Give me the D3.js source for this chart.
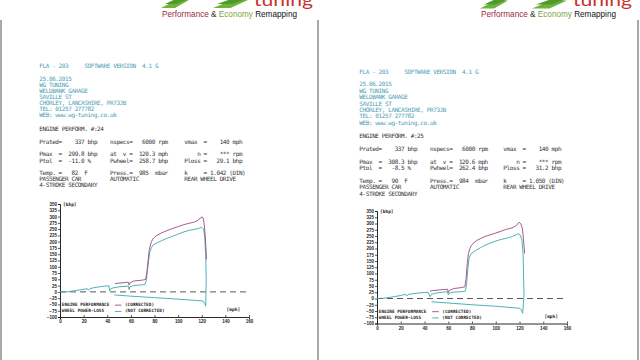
<!DOCTYPE html>
<html><head><meta charset="utf-8">
<script src="https://cdn.jsdelivr.net/npm/d3@7"></script>
<style>body{margin:0;background:#fff}svg{display:block}text{white-space:pre}</style>
</head><body><svg id="c" width="640" height="360"></svg>
<script>
// ---------- data ----------
const yTicks = d3.range(-100, 351, 25);
const xTicks = d3.range(0, 161, 20);
const legendLabels = ["ENGINE PERFORMANCE", "WHEEL POWER-LOSS"];
const seriesLabels = ["(CORRECTED)", "(NOT CORRECTED)"];
const tagline = ["Performance ", "& ", "Economy ", "Remapping"];

// left sheet (#24)
const leftHeader = ["FLA - 203     SOFTWARE VERSION  4.1 G"];
const leftAddress = ["25.06.2015","WG TUNING","WELDBANK GARAGE","SAVILLE ST","CHORLEY, LANCASHIRE, PR73JB","TEL: 01257 277782","WEB: www.wg-tuning.co.uk"];
const leftTitle = "ENGINE PERFORM. #:24";
const leftRows = [
  ["Prated=    337 bhp", "nspecs=   6000 rpm", "vmax  =    140 mph"],
  ["Pmax  =  299.8 bhp", "at  v =  120.3 mph", "    n =    *** rpm"],
  ["Ptol  =  -11.0 %",   "Pwheel=  258.7 bhp", "Ploss =   29.1 bhp"],
  ["Temp. =   82  F",    "Press.=  985  mbar", "k     = 1.042 (DIN)"],
  ["PASSENGER CAR",      "AUTOMATIC",          "REAR WHEEL DRIVE"],
  ["4-STROKE SECONDARY", "", ""]
];
const leftUpperMph = [0,5,9,13,17,21,23,24,25,28,32,36,40,41.5,42,43,45,50,55,58,58.5,59.2,62,66,70,72,73,74,75,76,77.5,79,82,86,90,95,100,105,110,114,118,120,121.5,122.5,123.3,123.8,123.3];
const leftUpperBhp = [0,0,2,5,8,11,13,6,12,16,19,22,24,24,4,12,16,20,22,23,9,20,25,27,28,30,45,85,125,158,177,187,195,204,212,221,230,239,246,249,254,257,250,220,150,50,-57];
const leftLossMph = [123.3,122.5,121,115,100,80,60,46];
const leftLossBhp = [-57,-46,-36,-34,-29,-23,-17,-12];
const leftCorrMph = [46.5,50,55,58,58.5,59.2,62,66,70,72.5,73.5,74.5,75.5,77,78.5,80,82,86,90,95,100,105,110,113,116,118.5,120.3,121.5,122.5,123.5,124];
const leftCorrBhp = [33,35,37,39,27,35,43,45,47,50,75,122,165,195,210,218,225,235,243,252,260,268,274,277,283,292,299,290,250,180,130];

// right sheet (#25)
const rightHeader = ["FLA - 203     SOFTWARE VERSION  4.1 G"];
const rightAddress = ["25.06.2015","WG TUNING","WELDBANK GARAGE","SAVILLE ST","CHORLEY, LANCASHIRE, PR73JB","TEL: 01257 277782","WEB: www.wg-tuning.co.uk"];
const rightTitle = "ENGINE PERFORM. #:25";
const rightRows = [
  ["Prated=    337 bhp", "nspecs=   6000 rpm", "vmax  =    140 mph"],
  ["Pmax  =  308.3 bhp", "at  v =  120.6 mph", "    n =    *** rpm"],
  ["Ptol  =   -8.5 %",   "Pwheel=  262.4 bhp", "Ploss =   31.2 bhp"],
  ["Temp. =   90  F",    "Press.=  984  mbar", "k     = 1.050 (DIN)"],
  ["PASSENGER CAR",      "AUTOMATIC",          "REAR WHEEL DRIVE"],
  ["4-STROKE SECONDARY", "", ""]
];
const rightUpperMph = [0,5,10,15,20,24,25,26,30,35,40,43,44,44.6,46,50,55,59.5,60,61,65,70,73,74.5,75.5,76.5,77.5,78.5,80,83,87,91,95,100,105,110,114,117.6,119,120.5,122,123,123.8,122.7];
const rightUpperBhp = [0,1,4,8,12,17,10,16,19,22,24,25,15,7,17,22,25,27,14,22,26,27,28,30,60,120,160,174,182,192,203,213,221,230,237,242,248,256,259,255,235,180,14,-59];
const rightLossMph = [122.7,121.5,120.4,110,100,80,60,46];
const rightLossBhp = [-59,-45,-39,-35,-31,-25,-18,-13];
const rightCorrMph = [44.6,48,52,56,59.5,60,61,65,70,74,75,76,77,78.3,79.5,81,84,88,92,95,100,105,109,112,115,117.5,119.6,121,122.4,123.5,124.3];
const rightCorrBhp = [30,32,34,36,37,24,33,40,43,47,80,140,180,201,212,221,232,242,250,254,262,270,277,280,285,293,305,300,281,230,180];

// ---------- drawing ----------
const MAG = "#a1467f", TEAL = "#3ba8ad", HEAD = "#4a9db3", INK = "#333";
const svg = d3.select("#c");
svg.append("rect").attr("width",640).attr("height",360).attr("fill","#fff");

function logo(ox, oy){
  const g = svg.append("g").attr("transform",`translate(${ox},${oy})`);
  const sw = [[0,28],[52,35]];
  sw.forEach(([x0,w])=>{
    g.append("path").attr("d",`M${x0},8 L${x0+w*0.55},0 L${x0+w},0 L${x0+w*0.5},8 Z`).attr("fill","#6fb33a");
    g.append("path").attr("d",`M${x0+4},4 L${x0+w*0.6},-2 L${x0+w+2},-2 L${x0+w*0.55},4 Z`).attr("fill","#4f9a2c");
  });
  g.append("text").attr("x",93).attr("y",5.5).attr("font-family","Lato, 'Open Sans', sans-serif")
    .attr("font-size",17).attr("fill","#c8322e").attr("textLength",59).attr("lengthAdjust","spacingAndGlyphs").text("tuning");
  const t = g.append("text").attr("x",1).attr("y",16.5).attr("font-family","'Liberation Sans', Arial, sans-serif")
    .attr("font-size",8.3).attr("textLength",135).attr("lengthAdjust","spacingAndGlyphs");
  const cols = ["#9a2a3c","#333","#7ba63a","#111"];
  tagline.forEach((s,i)=>t.append("tspan").attr("fill",cols[i]).text(s));
}

function sheet(cfg){
  const mono = "'DejaVu Sans Mono', 'Liberation Mono', monospace";
  const fs = 6, ls = -0.4;
  const tx = (x,y,s,col)=>svg.append("text").attr("x",x).attr("y",y).attr("font-family",mono)
      .attr("font-size",fs).attr("letter-spacing",ls).attr("fill",col).text(s);
  tx(cfg.tx, cfg.hy, cfg.header[0], HEAD);
  cfg.address.forEach((s,i)=>tx(cfg.tx, cfg.ay + i*cfg.lh, s, HEAD));
  tx(cfg.tx, cfg.ty, cfg.title, INK);
  const rowOff = [0, 2.0, 3.0, 5.0, 6.0, 7.0];
  cfg.rows.forEach((r,i)=>{
    const y = cfg.ry + rowOff[i]*cfg.lh;
    r.forEach((s,j)=>{ if(s) tx(cfg.cx[j], y, s, INK); });
  });

  const x = d3.scaleLinear().domain([0,160]).range(cfg.xr);
  const y = d3.scaleLinear().domain([-100,350]).range(cfg.yr);
  const g = svg.append("g");
  const ya = g.append("g").attr("transform",`translate(${cfg.xr[0]},0)`)
    .call(d3.axisLeft(y).tickValues(yTicks).tickSize(2).tickPadding(1));
  const xa = g.append("g").attr("transform",`translate(0,${cfg.yr[0]})`)
    .call(d3.axisBottom(x).tickValues(xTicks).tickSize(2).tickPadding(1));
  [ya,xa].forEach(a=>{
    a.select(".domain").attr("stroke","#111").attr("stroke-width",0.9);
    a.selectAll(".tick line").attr("stroke","#111").attr("stroke-width",0.7);
    a.selectAll("text").attr("font-family","'Liberation Sans', Arial, sans-serif").attr("font-size",4.5)
      .attr("font-weight","bold").attr("fill","#222");
  });
  xa.selectAll(".tick line").attr("y2",-2);
  g.append("text").attr("x",cfg.xr[0]+3).attr("y",cfg.yr[1]+2).attr("font-family",mono).attr("font-size",4.5)
    .attr("font-weight","bold").attr("fill","#222").text("[bhp]");
  g.append("text").attr("x",x(141)).attr("y",y(-78)).attr("font-family",mono).attr("font-size",4.5)
    .attr("font-weight","bold").attr("fill","#222").text("[mph]");
  g.append("line").attr("x1",x(0)).attr("x2",x(159)).attr("y1",y(0)).attr("y2",y(0))
    .attr("stroke","#444").attr("stroke-width",0.9).attr("stroke-dasharray","6,4");
  const line = d3.line().x(d=>x(d[0])).y(d=>y(d[1]));
  const draw = (m,b,col)=>g.append("path").datum(d3.zip(m,b)).attr("d",line)
    .attr("fill","none").attr("stroke",col).attr("stroke-width",0.9).attr("stroke-linejoin","round");
  draw(cfg.upM, cfg.upB, TEAL);
  draw(cfg.lossM, cfg.lossB, TEAL);
  draw(cfg.corM, cfg.corB, MAG);
  legendLabels.forEach((s,i)=>{
    const ly = y(-56) + i*(y(-81)-y(-56));
    g.append("text").attr("x",x(1.5)).attr("y",ly).attr("font-family",mono).attr("font-size",4.4)
      .attr("font-weight","bold").attr("fill","#222").text(s);
    g.append("line").attr("x1",x(46.5)).attr("x2",x(52)).attr("y1",ly-0.8).attr("y2",ly-0.8)
      .attr("stroke", i===0?MAG:TEAL).attr("stroke-width",0.9);
    g.append("text").attr("x",x(55)).attr("y",ly).attr("font-family",mono).attr("font-size",4.4)
      .attr("font-weight","bold").attr("fill","#222").text(seriesLabels[i]);
  });
}

[[1,20],[318,20],[638,20]].forEach(([bx,by])=>svg.append("line").attr("x1",bx).attr("x2",bx).attr("y1",by).attr("y2",360)
  .attr("stroke","#555").attr("stroke-width",1));

logo(161,0);
logo(480,0.5);

sheet({header:leftHeader,address:leftAddress,title:leftTitle,rows:leftRows,
  tx:39.3, hy:67.5, ay:80.8, lh:6.1, ty:131, ry:144.2, cx:[39.3,110,184.3],
  xr:[60,249], yr:[317,204],
  upM:leftUpperMph,upB:leftUpperBhp,lossM:leftLossMph,lossB:leftLossBhp,corM:leftCorrMph,corB:leftCorrBhp});
sheet({header:rightHeader,address:rightAddress,title:rightTitle,rows:rightRows,
  tx:359.3, hy:73.5, ay:86.3, lh:6.4, ty:137.7, ry:151, cx:[359.3,430,503.3],
  xr:[377,567], yr:[323.5,211],
  upM:rightUpperMph,upB:rightUpperBhp,lossM:rightLossMph,lossB:rightLossBhp,corM:rightCorrMph,corB:rightCorrBhp});
</script></body></html>
